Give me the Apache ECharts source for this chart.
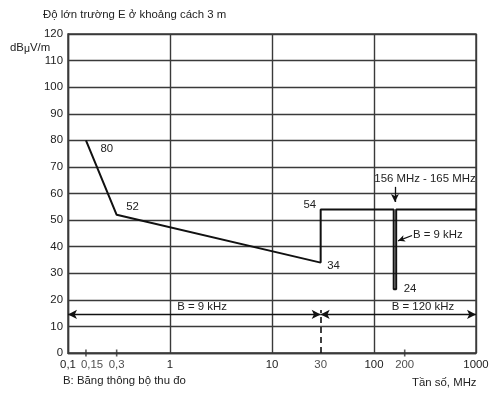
<!DOCTYPE html>
<html>
<head>
<meta charset="utf-8">
<script src="https://cdn.jsdelivr.net/npm/echarts@6/dist/echarts.min.js"></script>
<style>html,body{margin:0;padding:0;background:#fff}#c{width:498px;height:395px}</style>
</head>
<body>
<div id="c"></div>
<script>
// ---- data ----
const freqMHz = [0.15, 0.3, 30, 30, 156, 156, 165, 165, 1000];
const limitDb = [80, 52, 34, 54, 54, 24, 24, 54, 54];
const labeledIdx = [0, 1, 2, 3, 6];
const extraTickFreq = [0.15, 0.3, 30, 200];
const extraTickText = ['0,15', '0,3', '30', '200'];
const yMin = 0, yMax = 120, yStep = 10;
const bandSplitMHz = 30;
const bands = [[0.1, 30, 'B = 9 kHz'], [30, 1000, 'B = 120 kHz']];
const notchBand = [156, 165];
const notchText = '156 MHz - 165 MHz';
const notchBwText = 'B = 9 kHz';
const titleText = 'Độ lớn trường E ở khoảng cách 3 m';
const xNameText = 'Tần số, MHz';
const noteText = 'B: Băng thông bộ thu đo';

// ---- styles / annotation placement ----
const INK = '#222', GRID = '#3a3a3a';
const FONT = 'Liberation Sans, Arial, sans-serif';
const FS = 11.4;
const bandY = 14.5, dashTop = 16.2;
const labelPlace = {
  0: {position: 'right', offset: [10, 9]},
  1: {position: 'right', offset: [5, -8]},
  2: {position: 'right', offset: [2, 3]},
  3: {position: 'left', offset: [0, -5]},
  6: {position: 'right', offset: [3, 0]}
};
const tickLabelShift = {'0,15': [6, 12]};

const lineData = freqMHz.map((f, i) => {
  const item = {value: [f, limitDb[i]]};
  if (labeledIdx.includes(i)) {
    item.label = Object.assign({show: true, formatter: String(limitDb[i]), color: INK, fontSize: FS, fontFamily: FONT, distance: 4}, labelPlace[i]);
  }
  return item;
});

const notchMid = Math.sqrt(notchBand[0] * notchBand[1]);
const arrowSym = [7, 9];

const markLines = [];
bands.forEach(b => {
  markLines.push([
    {coord: [b[0], bandY], symbol: 'arrow', symbolSize: arrowSym},
    {coord: [b[1], bandY], symbol: 'arrow', symbolSize: arrowSym}
  ]);
});
markLines.push([
  {coord: [bandSplitMHz, yMin], symbol: 'none', lineStyle: {type: [6, 4], width: 1.6, color: '#111'}},
  {coord: [bandSplitMHz, dashTop], symbol: 'none'}
]);
markLines.push([
  {coord: [notchMid, 62.5], symbol: 'none'},
  {coord: [notchMid, 56.8], symbol: 'arrow', symbolSize: [6, 8]}
]);
markLines.push([
  {coord: [236, 44.2], symbol: 'none'},
  {coord: [172, 42.2], symbol: 'arrow', symbolSize: [5, 7]}
]);

const markPoints = [
  {coord: [2.06, 17.4], label: {formatter: bands[0][2]}},
  {coord: [302, 17.4], label: {formatter: bands[1][2]}},
  {coord: [notchMid, 65.6], label: {formatter: notchText, offset: [30, 0]}},
  {coord: [236, 44.6], label: {formatter: notchBwText, position: 'right', distance: 1}}
];

const tickData = extraTickFreq.map((f, i) => ({
  value: [f, yMin],
  symbolSize: f === bandSplitMHz ? 0 : [1.6, 7],
  label: {show: true, formatter: extraTickText[i], position: 'inside', offset: tickLabelShift[extraTickText[i]] || [0, 12], color: INK, fontSize: FS, fontFamily: FONT}
}));

const chart = echarts.init(document.getElementById('c'), null, {renderer: 'canvas'});
chart.setOption({
  animation: false,
  backgroundColor: '#fff',
  textStyle: {fontFamily: FONT},
  grid: {left: 68, right: 22, top: 34, bottom: 42, show: true, borderColor: GRID, borderWidth: 1.4},
  xAxis: {
    type: 'log', logBase: 10, min: 0.1, max: 1000,
    axisLine: {show: true, lineStyle: {color: GRID, width: 1.4}},
    axisTick: {show: false},
    axisLabel: {color: INK, fontSize: FS, margin: 6, fontFamily: FONT,
      formatter: v => String(+(+v).toPrecision(6)).replace('.', ',')},
    splitLine: {show: true, lineStyle: {color: GRID, width: 1.4}}
  },
  yAxis: {
    type: 'value', min: yMin, max: yMax, interval: yStep,
    axisLine: {show: true, lineStyle: {color: GRID, width: 1.4}},
    axisTick: {show: false},
    axisLabel: {color: INK, fontSize: FS, margin: 5, fontFamily: FONT},
    splitLine: {show: true, lineStyle: {color: GRID, width: 1.4}}
  },
  series: [
    {
      type: 'line', data: lineData, clip: false,
      symbol: 'circle', symbolSize: 1, showSymbol: true,
      itemStyle: {color: 'rgba(0,0,0,0)'},
      lineStyle: {color: '#111', width: 2},
      markLine: {
        silent: true, animation: false,
        lineStyle: {color: '#111', width: 1.3, type: 'solid'},
        label: {show: false},
        data: markLines
      },
      markPoint: {
        silent: true, animation: false,
        symbol: 'circle', symbolSize: 0,
        label: {show: true, position: 'inside', color: INK, fontSize: FS, fontFamily: FONT},
        data: markPoints
      }
    },
    {
      type: 'scatter', data: tickData, clip: false, symbol: 'rect',
      itemStyle: {color: '#333'}, silent: true
    }
  ],
  graphic: [
    {type: 'text', left: 43, top: 9, style: {text: titleText, fill: INK, font: FS + 'px ' + FONT}},
    {type: 'text', left: 10, top: 42, style: {
      text: '{a|dB}{s|μ}{a|V/m}', fill: INK,
      rich: {a: {fontSize: FS, fontFamily: FONT, fill: INK}, s: {fontSize: 10.5, fontFamily: FONT, fill: INK, padding: [4, 0, 0, 0]}}
    }},
    {type: 'text', left: 63, top: 375, style: {text: noteText, fill: INK, font: FS + 'px ' + FONT}},
    {type: 'text', left: 412, top: 377, style: {text: xNameText, fill: INK, font: FS + 'px ' + FONT}}
  ]
});
</script>
</body>
</html>
